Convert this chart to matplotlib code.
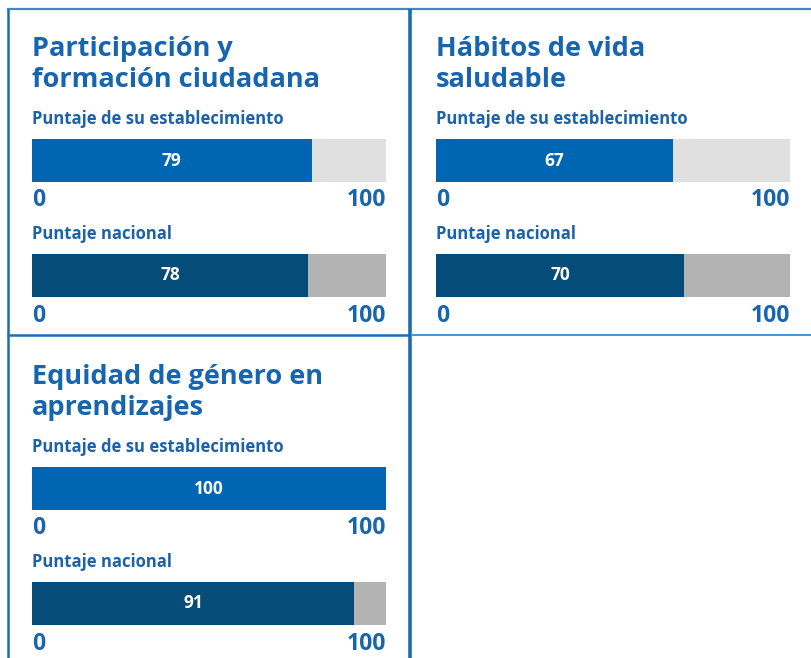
import matplotlib
matplotlib.use("Agg")
import matplotlib.pyplot as plt
from matplotlib.lines import Line2D

# Indicator data
titles = [
    ["Participación y", "formación ciudadana"],
    ["Hábitos de vida", "saludable"],
    ["Equidad de género en", "aprendizajes"],
]
score_school = [79, 67, 100]
score_national = [78, 70, 91]
row_labels = ["Puntaje de su establecimiento", "Puntaje nacional"]
scale_min, scale_max = 0, 100

W, H = 812, 658
plt.rcParams["font.family"] = ["Open Sans", "DejaVu Sans"]

BLUE = "#0066b3"
NAVY = "#054c78"
LIGHT = "#e0e0e0"
GREY = "#b3b3b3"
TXT = "#1765ae"
SUB = "#1d62a6"

fig = plt.figure(figsize=(W / 100, H / 100), dpi=100)
fig.patch.set_facecolor("white")


def fx(x):
    return x / W


def fy(y):
    return 1 - y / H


def ftext(x, y, s, **kw):
    fig.text(fx(x), fy(y), s, **kw)


# panel frames
def fline(xs, ys, color, lw):
    fig.add_artist(Line2D([fx(v) for v in xs], [fy(v) for v in ys],
                          color=color, lw=lw, solid_capstyle="butt",
                          transform=fig.transFigure))


fline([7, 812], [9, 9], "#3f89cb", 1.6)
fline([7.5, 7.5], [9, 658], "#1a6cb5", 1.8)
fline([410.5, 410.5], [9, 658], "#1a6cb5", 2.6)
fline([7, 410], [335, 335], "#1a6cb5", 1.8)
fline([411, 812], [334.5, 334.5], "#4a90d0", 1.4)

# panel origins (left edge of bars, vertical offset)
origins = [(32, 0), (436, 0), (32, 328)]
bar_w = 354
bar_h = 43
bar_tops = [139, 254]
fills = [(BLUE, LIGHT), (NAVY, GREY)]

for i, (x0, dy) in enumerate(origins):
    # title
    ftext(x0, 56 + dy, titles[i][0], fontsize=19.5, fontweight="bold",
          color=TXT, va="baseline", ha="left")
    ftext(x0, 87 + dy, titles[i][1], fontsize=19.5, fontweight="bold",
          color=TXT, va="baseline", ha="left")

    values = [score_school[i], score_national[i]]
    for j, v in enumerate(values):
        top = bar_tops[j] + dy
        # row label
        ftext(x0, top - 15, row_labels[j], fontsize=12, fontweight="bold",
              color=SUB, va="baseline", ha="left")
        ax = fig.add_axes([fx(x0), fy(top + bar_h), bar_w / W, bar_h / H])
        ax.barh([0], [v], left=scale_min, height=1.0, color=fills[j][0],
                edgecolor="none")
        ax.barh([0], [scale_max - v], left=v, height=1.0, color=fills[j][1],
                edgecolor="none")
        ax.set_xlim(scale_min, scale_max)
        ax.set_ylim(-0.5, 0.5)
        ax.axis("off")
        ax.text(v / 2, 0, str(v), ha="center", va="center", color="white",
                fontsize=12.5, fontweight="bold")
        # scale endpoints
        ftext(x0, top + bar_h + 24.5, str(scale_min), fontsize=16.5,
              fontweight="bold", color=TXT, va="baseline", ha="left")
        ftext(x0 + bar_w, top + bar_h + 24.5, str(scale_max), fontsize=16.5,
              fontweight="bold", color=TXT, va="baseline", ha="right")

fig.savefig("out.png", dpi=100, facecolor="white")
